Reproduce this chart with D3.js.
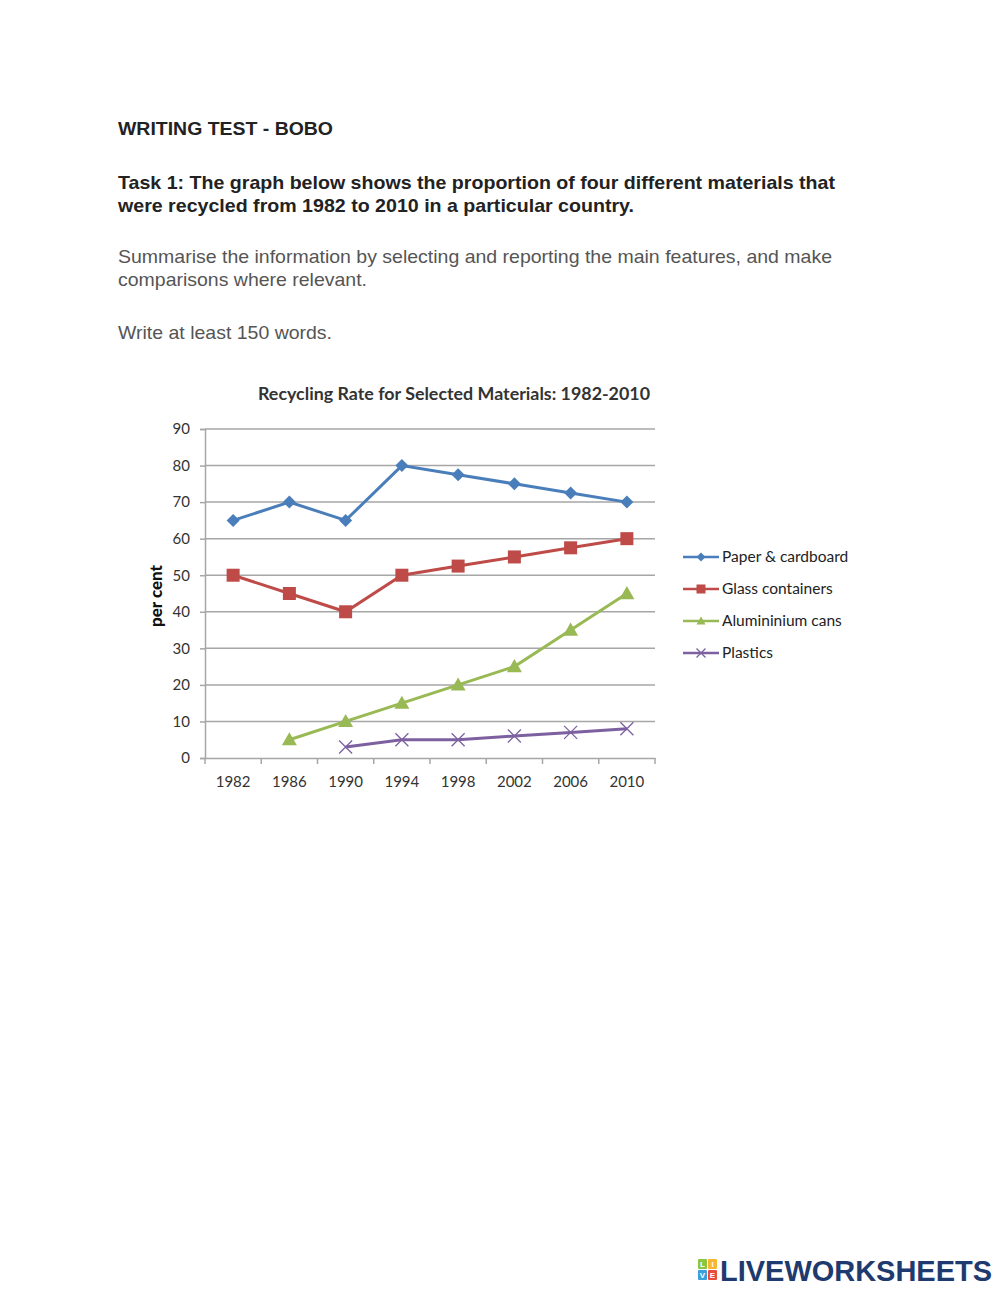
<!DOCTYPE html>
<html><head><meta charset="utf-8">
<script src="https://cdn.jsdelivr.net/npm/d3@7"></script>
<style>body{margin:0;background:#fff}svg{display:block}</style>
</head><body>
<script>
const years = ["1982","1986","1990","1994","1998","2002","2006","2010"];
const paper = [65,70,65,80,77.5,75,72.5,70];
const glass = [50,45,40,50,52.5,55,57.5,60];
const aluminium = [null,5,10,15,20,25,35,45];
const plastics = [null,null,3,5,5,6,7,8];
const seriesNames = ["Paper & cardboard","Glass containers","Alumininium cans","Plastics"];
const yTicks = [0,10,20,30,40,50,60,70,80,90];

const W=1000,H=1291;
const svg=d3.select("body").append("svg").attr("width",W).attr("height",H);
svg.append("rect").attr("width",W).attr("height",H).attr("fill","#fff");

// header texts
const hdr="'Liberation Sans', Arial, sans-serif";
function t(x,y,s,size,weight,fill,len){
  const e=svg.append("text").attr("x",x).attr("y",y).text(s)
    .attr("font-family",hdr).attr("font-size",size).attr("font-weight",weight).attr("fill",fill);
  if(len) e.attr("textLength",len).attr("lengthAdjust","spacingAndGlyphs");
  return e;
}
t(118,135,"WRITING TEST - BOBO",18,"bold","#222",215);
t(118,189,"Task 1: The graph below shows the proportion of four different materials that",18.5,"bold","#222",717);
t(118,212,"were recycled from 1982 to 2010 in a particular country.",18.5,"bold","#222",516);
t(118,263,"Summarise the information by selecting and reporting the main features, and make",18.5,"normal","#555",714);
t(118,286,"comparisons where relevant.",18.5,"normal","#555",249);
t(118,339,"Write at least 150 words.",18.5,"normal","#555",214);

// chart
const cf="Lato, 'Open Sans', sans-serif";
const x=d3.scaleBand().domain(years).range([205,655]);
const y=d3.scaleLinear().domain([0,90]).range([758,429]);
const g=svg.append("g");

g.append("text").attr("x",454).attr("y",400).attr("text-anchor","middle")
  .attr("font-family",cf).attr("font-weight","bold").attr("font-size",16.5).attr("fill","#333")
  .attr("textLength",392).attr("lengthAdjust","spacingAndGlyphs")
  .text("Recycling Rate for Selected Materials: 1982-2010");

// gridlines
g.append("g").selectAll("line").data(yTicks.filter(d=>d>0)).join("line")
  .attr("x1",205).attr("x2",655).attr("y1",d=>y(d)).attr("y2",d=>y(d))
  .attr("stroke","#a6a6a6").attr("stroke-width",1.5);

// y axis
const ya=g.append("g").attr("transform","translate(205,0)")
  .call(d3.axisLeft(y).tickValues(yTicks).tickSize(5).tickPadding(10));
ya.select(".domain").attr("stroke","#a6a6a6").attr("stroke-width",1.5);
ya.selectAll(".tick line").attr("stroke","#a6a6a6").attr("stroke-width",1.5);
ya.selectAll("text").attr("font-family",cf).attr("font-size",15).attr("fill","#333");

// x axis
const xa=g.append("g").attr("transform","translate(0,758)")
  .call(d3.axisBottom(x).tickSize(0).tickPadding(18));
xa.select(".domain").attr("stroke","#a6a6a6").attr("stroke-width",1.5);
xa.selectAll("text").attr("font-family",cf).attr("font-size",15).attr("fill","#333");
const bounds=[...years.map(d=>x(d)),655];
xa.append("g").selectAll("line").data(bounds).join("line")
  .attr("x1",d=>d).attr("x2",d=>d).attr("y1",0).attr("y2",6)
  .attr("stroke","#a6a6a6").attr("stroke-width",1.5);

g.append("text").attr("transform","translate(162,596) rotate(-90)").attr("text-anchor","middle")
  .attr("font-family",cf).attr("font-weight","900").attr("font-size",17).attr("fill","#111")
  .text("per cent");

const series=[
  {name:seriesNames[0],vals:paper,color:"#4a7ebb",marker:"diamond"},
  {name:seriesNames[1],vals:glass,color:"#be4b48",marker:"square"},
  {name:seriesNames[2],vals:aluminium,color:"#98b954",marker:"triangle"},
  {name:seriesNames[3],vals:plastics,color:"#7d60a0",marker:"x"}
];
const cx=d=>x(d.year)+x.bandwidth()/2;
function drawMarker(sel,type,color,s){
  if(type==="diamond") sel.append("path").attr("d",`M0,${-s}L${s},0L0,${s}L${-s},0Z`).attr("fill",color);
  else if(type==="square") sel.append("rect").attr("x",-s).attr("y",-s).attr("width",s*2).attr("height",s*2).attr("fill",color);
  else if(type==="triangle") sel.append("path").attr("d",`M0,${-s}L${s},${s*0.75}L${-s},${s*0.75}Z`).attr("fill",color);
  else sel.append("path").attr("d",`M${-s},${-s}L${s},${s}M${-s},${s}L${s},${-s}`).attr("stroke",color).attr("stroke-width",1.3).attr("fill","none");
}
const line=d3.line().defined(d=>d.v!=null).x(cx).y(d=>y(d.v));
const msz={diamond:6.5,square:6.5,triangle:7.5,x:6.5};
series.forEach(s=>{
  const pts=years.map((yr,i)=>({year:yr,v:s.vals[i]}));
  g.append("path").datum(pts).attr("d",line).attr("fill","none").attr("stroke",s.color)
    .attr("stroke-width",3);
  pts.filter(d=>d.v!=null).forEach(d=>{
    const m=g.append("g").attr("transform",`translate(${cx(d)},${y(d.v)})`);
    drawMarker(m,s.marker,s.color,msz[s.marker]);
  });
});

// legend
series.forEach((s,i)=>{
  const ly=557+i*32;
  g.append("line").attr("x1",683).attr("x2",719).attr("y1",ly).attr("y2",ly)
    .attr("stroke",s.color).attr("stroke-width",2.5);
  const m=g.append("g").attr("transform",`translate(701,${ly})`);
  drawMarker(m,s.marker,s.color,4.5);
  g.append("text").attr("x",722).attr("y",ly+5).attr("font-family",cf).attr("font-size",15.5)
    .attr("fill","#222").text(s.name);
});

// logo
const lg=svg.append("g");
const cols=[["#8cc63f","L"],["#f7b733","I"],["#3aa0db","V"],["#e94b3c","E"]];
cols.forEach((c,i)=>{
  const bx=698+(i%2)*10, by=1259+Math.floor(i/2)*11;
  lg.append("rect").attr("x",bx).attr("y",by).attr("width",9).attr("height",10).attr("rx",1).attr("fill",c[0]);
  lg.append("text").attr("x",bx+4.5).attr("y",by+8).attr("text-anchor","middle").attr("font-family",hdr)
    .attr("font-size",8).attr("font-weight","bold").attr("fill","#fff").text(c[1]);
});
lg.append("text").attr("x",720).attr("y",1281).attr("font-family",hdr).attr("font-weight","bold")
  .attr("font-size",29).attr("fill","#1e3a6e").attr("textLength",272).attr("lengthAdjust","spacingAndGlyphs")
  .text("LIVEWORKSHEETS");
</script>
</body></html>
